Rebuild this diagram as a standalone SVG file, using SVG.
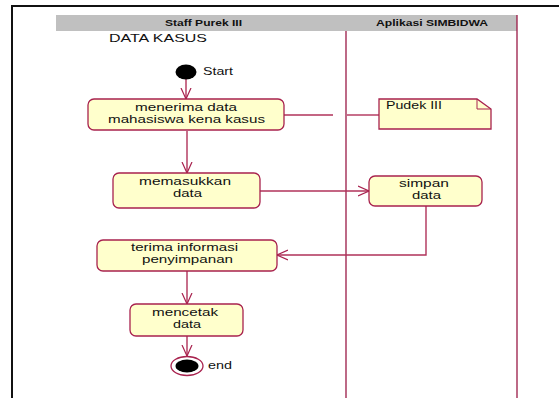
<svg xmlns="http://www.w3.org/2000/svg" width="559" height="398" viewBox="0 0 559 398">
  <defs>
    <marker id="open" viewBox="0 0 12 12" refX="11" refY="6" markerWidth="12" markerHeight="12" markerUnits="userSpaceOnUse" orient="auto">
      <path d="M0,1 L11,6 L0,11" fill="none" stroke="#a8224e" stroke-width="1.2"/>
    </marker>
  </defs>
  <style>
    text { font-family: "Liberation Sans", Arial, sans-serif; fill: #111; }
    .hdr { font-size: 8.5px; font-weight: bold; text-anchor: middle; }
    .lbl { font-size: 10.5px; text-anchor: middle; }
    .act { fill: #ffffcc; stroke: #a8224e; stroke-width: 1.3; }
    .lane { stroke: #9a1a46; stroke-width: 1.3; fill: none; }
    .edge { stroke: #b0325a; stroke-width: 1.4; fill: none; }
  </style>
  <rect width="559" height="398" fill="#ffffff"/>

  <!-- outer frame -->
  <path d="M12,398 L12,6 L559,6" fill="none" stroke="#111" stroke-width="2"/>

  <!-- swimlane header and dividers -->
  <g id="lanes">
    <rect x="56" y="15" width="461" height="16" fill="#c0c0c0"/>
    <text class="hdr" x="203.5" y="26" textLength="77" lengthAdjust="spacingAndGlyphs">Staff Purek III</text>
    <text class="hdr" x="432" y="26" textLength="112" lengthAdjust="spacingAndGlyphs">Aplikasi SIMBIDWA</text>
    <line class="lane" x1="346" y1="31" x2="346" y2="398"/>
    <line class="lane" x1="517" y1="15" x2="517" y2="398"/>
  </g>

  <text x="109" y="42" style="font-size:11px" textLength="98" lengthAdjust="spacingAndGlyphs">DATA KASUS</text>

  <!-- connectors -->
  <g id="connectors">
    <line class="edge" x1="186" y1="79" x2="186" y2="99" marker-end="url(#open)"/>
    <line class="edge" x1="284" y1="115" x2="333" y2="115"/>
    <line class="edge" x1="347" y1="115" x2="379" y2="115"/>
    <line class="edge" x1="187" y1="131" x2="187" y2="173" marker-end="url(#open)"/>
    <line class="edge" x1="260" y1="191" x2="369" y2="191" marker-end="url(#open)"/>
    <polyline class="edge" points="426,206 426,255 277,255" marker-end="url(#open)"/>
    <line class="edge" x1="187" y1="271" x2="187" y2="304" marker-end="url(#open)"/>
    <line class="edge" x1="187" y1="336" x2="187" y2="356" marker-end="url(#open)"/>
  </g>

  <g id="start">
    <ellipse cx="186" cy="72" rx="10.5" ry="7.5" fill="#000"/>
    <text x="203" y="75" style="font-size:11px" textLength="30" lengthAdjust="spacingAndGlyphs">Start</text>
  </g>

  <g id="terima-data">
    <rect class="act" x="88" y="99" width="196" height="31" rx="6"/>
    <text class="lbl" x="186" y="111" textLength="102" lengthAdjust="spacingAndGlyphs">menerima data</text>
    <text class="lbl" x="186.5" y="123" textLength="157" lengthAdjust="spacingAndGlyphs">mahasiswa kena kasus</text>
  </g>

  <g id="note-pudek">
    <path d="M379,99 L477,99 L491,109 L491,129 L379,129 Z" fill="#ffffcc" stroke="#a8224e" stroke-width="1.3"/>
    <path d="M477,99 L477,109 L491,109" fill="none" stroke="#a8224e" stroke-width="1"/>
    <text x="386" y="109" style="font-size:11px" textLength="56" lengthAdjust="spacingAndGlyphs">Pudek III</text>
  </g>

  <g id="memasukkan">
    <rect class="act" x="113" y="173" width="147" height="35" rx="6"/>
    <text class="lbl" x="185" y="185" textLength="92" lengthAdjust="spacingAndGlyphs">memasukkan</text>
    <text class="lbl" x="187.5" y="197" textLength="29" lengthAdjust="spacingAndGlyphs">data</text>
  </g>

  <g id="simpan">
    <rect class="act" x="369" y="176" width="113" height="30" rx="6"/>
    <text class="lbl" x="424" y="187" textLength="50" lengthAdjust="spacingAndGlyphs">simpan</text>
    <text class="lbl" x="426.5" y="199" textLength="29" lengthAdjust="spacingAndGlyphs">data</text>
  </g>

  <g id="terima-info">
    <rect class="act" x="97" y="240" width="180" height="31" rx="6"/>
    <text class="lbl" x="184.5" y="251" textLength="107" lengthAdjust="spacingAndGlyphs">terima informasi</text>
    <text class="lbl" x="187.5" y="263" textLength="91" lengthAdjust="spacingAndGlyphs">penyimpanan</text>
  </g>

  <g id="mencetak">
    <rect class="act" x="130" y="304" width="113" height="32" rx="6"/>
    <text class="lbl" x="185" y="316" textLength="66" lengthAdjust="spacingAndGlyphs">mencetak</text>
    <text class="lbl" x="187" y="328" textLength="28" lengthAdjust="spacingAndGlyphs">data</text>
  </g>

  <g id="end">
    <ellipse cx="187" cy="366" rx="16" ry="9.5" fill="#fff" stroke="#a8224e" stroke-width="1.3"/>
    <ellipse cx="187" cy="366" rx="11.5" ry="6.5" fill="#000"/>
    <text x="208" y="369" style="font-size:11px" textLength="24" lengthAdjust="spacingAndGlyphs">end</text>
  </g>
</svg>
